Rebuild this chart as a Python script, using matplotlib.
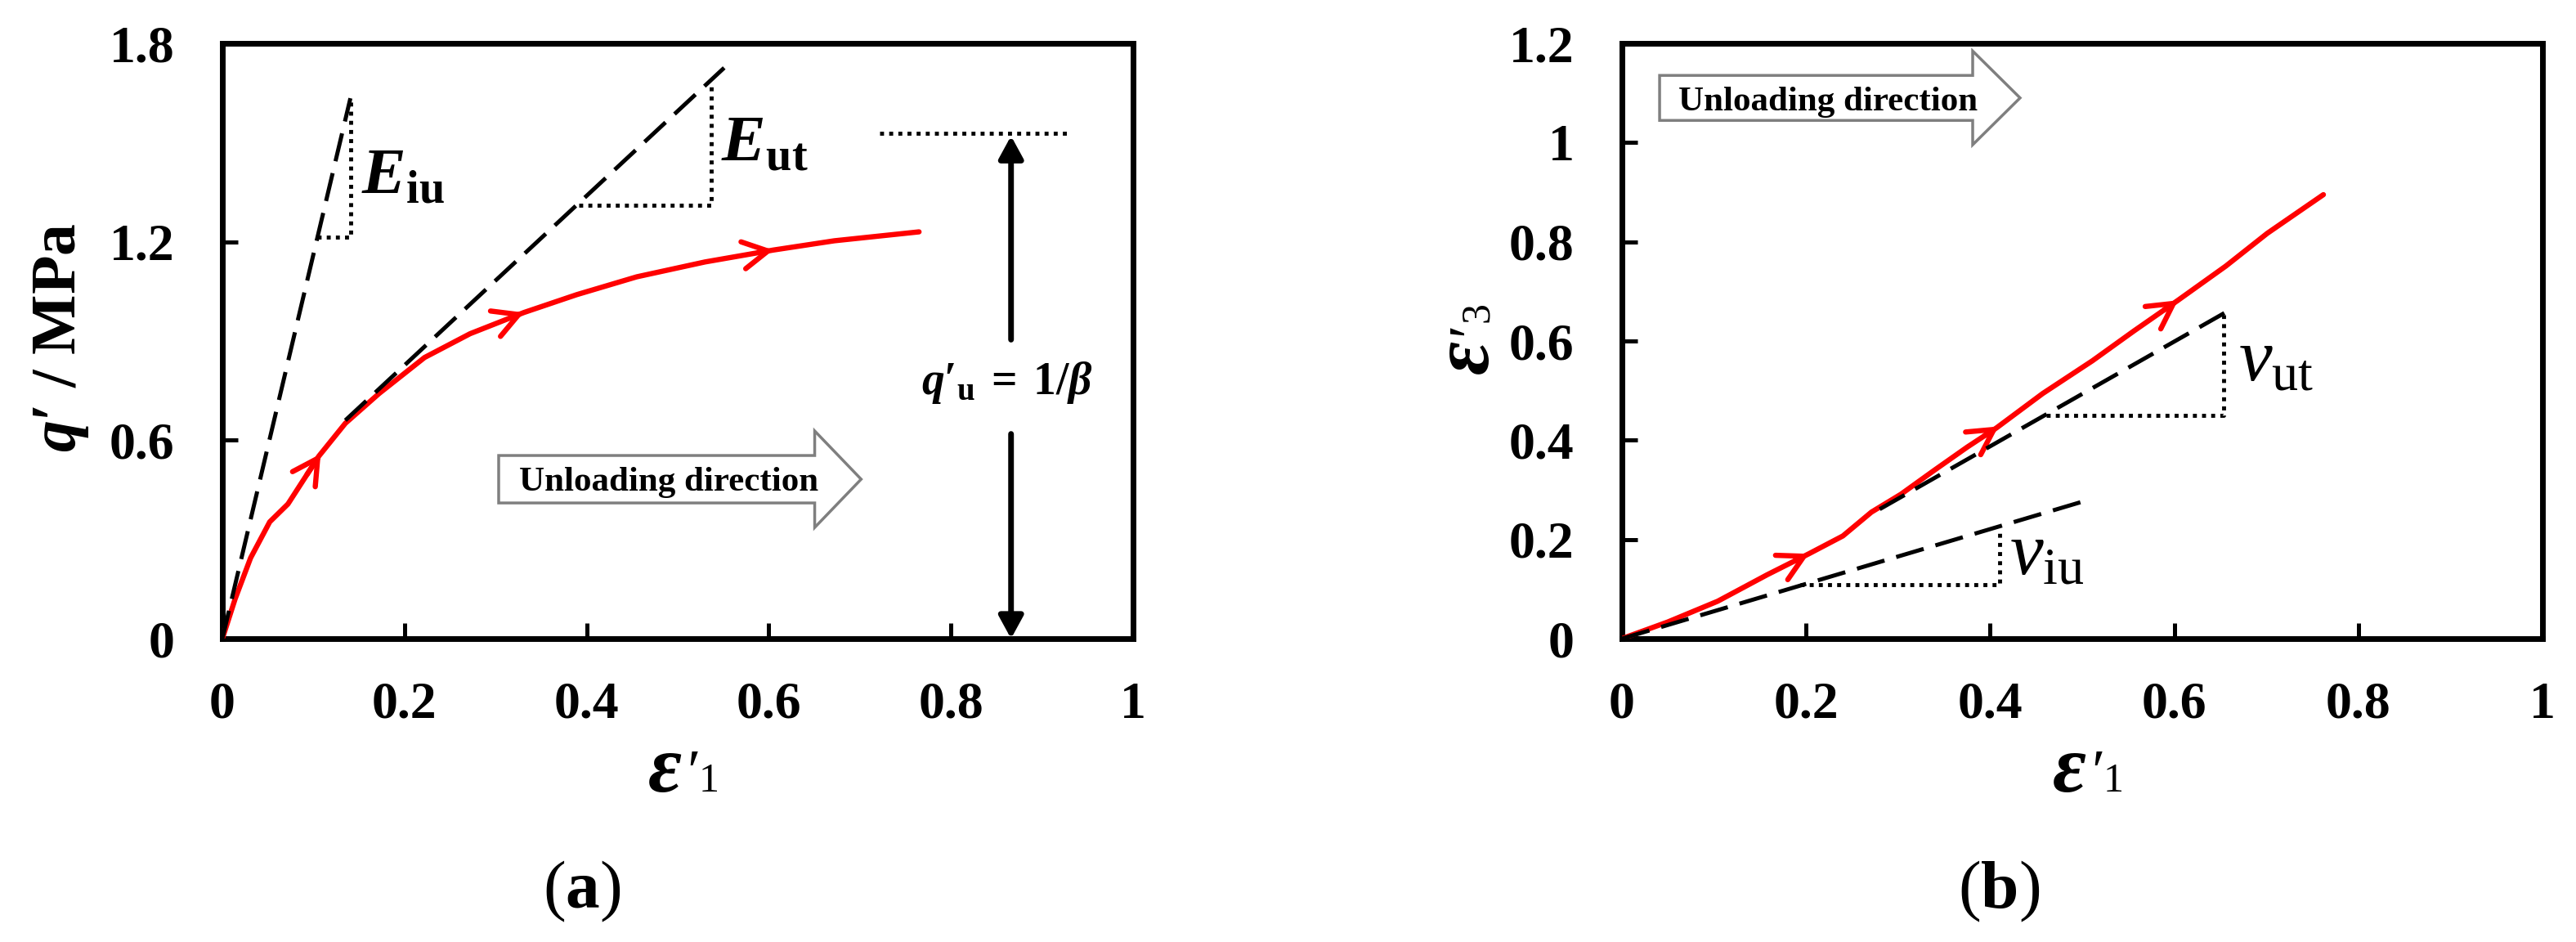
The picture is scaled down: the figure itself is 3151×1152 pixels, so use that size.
import numpy as np
import matplotlib
matplotlib.use("Agg")
import matplotlib.pyplot as plt
from matplotlib.patches import FancyArrow

plt.rcParams['font.family'] = ['Liberation Serif', 'DejaVu Serif']
plt.rcParams['mathtext.fontset'] = 'custom'
plt.rcParams['mathtext.rm'] = 'Liberation Serif'
plt.rcParams['mathtext.it'] = 'Liberation Serif:italic'
plt.rcParams['mathtext.bf'] = 'Liberation Serif:bold'
plt.rcParams['mathtext.bfit'] = 'Liberation Serif:italic:bold'

# ---- panel (a): q' vs eps'1 ----
eps1_a = [0, 0.014, 0.031, 0.052, 0.072, 0.106, 0.135, 0.172, 0.222, 0.272,
          0.331, 0.389, 0.455, 0.530, 0.605, 0.672, 0.765]
q_a = [0, 0.12, 0.244, 0.353, 0.407, 0.552, 0.651, 0.741, 0.850, 0.922,
       0.986, 1.040, 1.094, 1.139, 1.175, 1.203, 1.230]
arrows_a = [0.108, 0.331, 0.605]

# tangent lines and slope triangles
e_iu_x, e_iu_y = [0, 0.1406], [0, 1.634]
e_ut_x, e_ut_y = [0.135, 0.551], [0.66, 1.726]
tri_iu_x, tri_iu_y = [0.104, 0.1406, 0.1406], [1.214, 1.214, 1.63]
tri_ut_x, tri_ut_y = [0.391, 0.537, 0.537], [1.311, 1.311, 1.672]
q_u = 1.528
q_u_line_x = [0.722, 0.93]
q_u_arrow_x = 0.866

# ---- panel (b): eps'3 vs eps'1 ----
eps1_b = [0, 0.0497, 0.104, 0.158, 0.203, 0.240, 0.271, 0.303, 0.339, 0.375,
          0.407, 0.457, 0.511, 0.556, 0.604, 0.656, 0.701, 0.762]
eps3_b = [0, 0.0335, 0.0754, 0.129, 0.171, 0.207, 0.255, 0.291, 0.339, 0.386,
          0.425, 0.494, 0.560, 0.620, 0.682, 0.751, 0.817, 0.895]
arrows_b = [0.203, 0.409, 0.604]

v_ut_x, v_ut_y = [0.280, 0.665], [0.261, 0.6675]
v_iu_x, v_iu_y = [0, 0.5], [0, 0.276]
tri_vut_x, tri_vut_y = [0.461, 0.654, 0.654], [0.45, 0.45, 0.652]
tri_viu_x, tri_viu_y = [0.194, 0.41, 0.41], [0.108, 0.108, 0.221]

x_ticks = [0, 0.2, 0.4, 0.6, 0.8, 1]
x_ticklabels = ['0', '0.2', '0.4', '0.6', '0.8', '1']
ya_ticks = [0, 0.6, 1.2, 1.8]
ya_ticklabels = ['0', '0.6', '1.2', '1.8']
yb_ticks = [0, 0.2, 0.4, 0.6, 0.8, 1.0, 1.2]
yb_ticklabels = ['0', '0.2', '0.4', '0.6', '0.8', '1', '1.2']

W, H = 3151, 1152
fig = plt.figure(figsize=(W / 100, H / 100), dpi=100)
ax_a = fig.add_axes([272 / W, 371 / H, 1114 / W, 728 / H])
ax_b = fig.add_axes([1984 / W, 371 / H, 1126 / W, 728 / H])


def px(x, y):
    return x / W, 1 - y / H


DASH = (0, (7, 3))
DOT = (0, (1, 1.3))


def style_axes(ax, yticks, ylabels, ymax):
    ax.set_xlim(0, 1)
    ax.set_ylim(0, ymax)
    ax.set_xticks(x_ticks)
    ax.set_xticklabels(x_ticklabels, fontsize=46, fontweight='bold')
    ax.set_yticks(yticks)
    ax.set_yticklabels(ylabels, fontsize=46, fontweight='bold')
    ax.tick_params(direction='in', length=14, width=3.6, top=False, right=False)
    ax.tick_params(axis='x', pad=38)
    ax.tick_params(axis='y', pad=42)
    for s in ax.spines.values():
        s.set_linewidth(5)


def red_curve(ax, x, y, at):
    ax.plot(x, y, color='red', lw=4.6, zorder=3, solid_capstyle='round')
    for xa in at:
        ya = np.interp(xa, x, y)
        xb = xa - 0.015
        yb = np.interp(xb, x, y)
        ax.annotate('', xy=(xa, ya), xytext=(xb, yb),
                    arrowprops=dict(arrowstyle='->,head_length=2.2,head_width=1.2',
                                    color='red', lw=4.6, shrinkA=0, shrinkB=0,
                                    mutation_scale=10), zorder=3)


def dotted(ax, x, y):
    ax.plot(x, y, color='black', lw=3.5, linestyle=DOT, dash_capstyle='butt')


def dashed(ax, x, y):
    ax.plot(x, y, color='black', lw=3.6, linestyle=DASH, zorder=4)


# ----- (a) -----
style_axes(ax_a, ya_ticks, ya_ticklabels, 1.8)
red_curve(ax_a, eps1_a, q_a, arrows_a)
dashed(ax_a, e_iu_x, e_iu_y)
dashed(ax_a, e_ut_x, e_ut_y)
dotted(ax_a, tri_iu_x, tri_iu_y)
dotted(ax_a, tri_ut_x, tri_ut_y)
dotted(ax_a, q_u_line_x, [q_u, q_u])
ax_a.text(0.1526, 1.345, r'$\mathbfit{E}_{\mathbf{iu}}$', fontsize=58, ha='left', va='baseline')
ax_a.text(0.5476, 1.444, r'$\mathbfit{E}_{\mathbf{ut}}$', fontsize=58, ha='left', va='baseline')

head = dict(arrowstyle='-|>,head_length=1.65,head_width=0.9', color='black', lw=5,
            shrinkA=0, shrinkB=0, mutation_scale=10)
ax_a.annotate('', xy=(q_u_arrow_x, q_u - 0.008), xytext=(q_u_arrow_x, 0.904), arrowprops=head)
ax_a.annotate('', xy=(q_u_arrow_x, 0.0), xytext=(q_u_arrow_x, 0.619), arrowprops=head,
              annotation_clip=False)
ax_a.text(0.862, 0.739, r'$\mathbfit{q}\mathbf{′}_{\mathbf{u}}\mathbf{\;=\;1/}\mathbfit{β}$',
          fontsize=40, ha='center', va='baseline')

ax_a.add_patch(FancyArrow(0.3034, 0.482, 0.398, 0, width=0.1435, head_width=0.292,
                          head_length=0.051, length_includes_head=True,
                          facecolor='white', edgecolor='#7f7f7f', lw=2.5, zorder=2))
ax_a.text(0.4906, 0.4476, 'Unloading direction', fontsize=31, fontweight='bold',
          ha='center', va='baseline', zorder=5)

# ----- (b) -----
style_axes(ax_b, yb_ticks, yb_ticklabels, 1.2)
red_curve(ax_b, eps1_b, eps3_b, arrows_b)
dashed(ax_b, v_ut_x, v_ut_y)
dashed(ax_b, v_iu_x, v_iu_y)
dotted(ax_b, tri_vut_x, tri_vut_y)
dotted(ax_b, tri_viu_x, tri_viu_y)
ax_b.text(0.670, 0.521, r'$v_{\mathrm{ut}}$', fontsize=66, ha='left', va='baseline')
ax_b.text(0.421, 0.130, r'$v_{\mathrm{iu}}$', fontsize=66, ha='left', va='baseline')

ax_b.add_patch(FancyArrow(0.0409, 1.090, 0.3916, 0, width=0.0907, head_width=0.189,
                          head_length=0.0515, length_includes_head=True,
                          facecolor='white', edgecolor='#7f7f7f', lw=2.5, zorder=2))
ax_b.text(0.2243, 1.0648, 'Unloading direction', fontsize=31, fontweight='bold',
          ha='center', va='baseline', zorder=5)

# ----- axis labels -----
fig.text(*px(92, 413), r'$\mathbfit{q}\mathbf{′\ /\ MPa}$', fontsize=56, rotation=90,
         rotation_mode='anchor', ha='center', va='baseline')

for cx in (829, 2547):
    fig.text(*px(cx + 5, 968), 'ε', fontsize=72, fontstyle='italic', fontweight='bold',
             ha='right', va='baseline')
    fig.text(*px(cx + 11, 968), '′', fontsize=54, ha='left', va='baseline')
    fig.text(*px(cx + 26, 968), '1', fontsize=36, ha='left', va='baseline')

fig.text(*px(1820, 416), 'ε', fontsize=72, fontstyle='italic', fontweight='bold',
         rotation=90, rotation_mode='anchor', ha='right', va='baseline')
fig.text(*px(1820, 410), '′', fontsize=54, rotation=90, rotation_mode='anchor',
         ha='left', va='baseline')
fig.text(*px(1820, 394), '3', fontsize=36, rotation=90, rotation_mode='anchor',
         ha='left', va='baseline')

fig.text(*px(712, 1110), r'($\mathbf{a}$)', fontsize=60, ha='center', va='baseline')
fig.text(*px(2445, 1110), r'($\mathbf{b}$)', fontsize=60, ha='center', va='baseline')

fig.savefig('out.png', dpi=100)
